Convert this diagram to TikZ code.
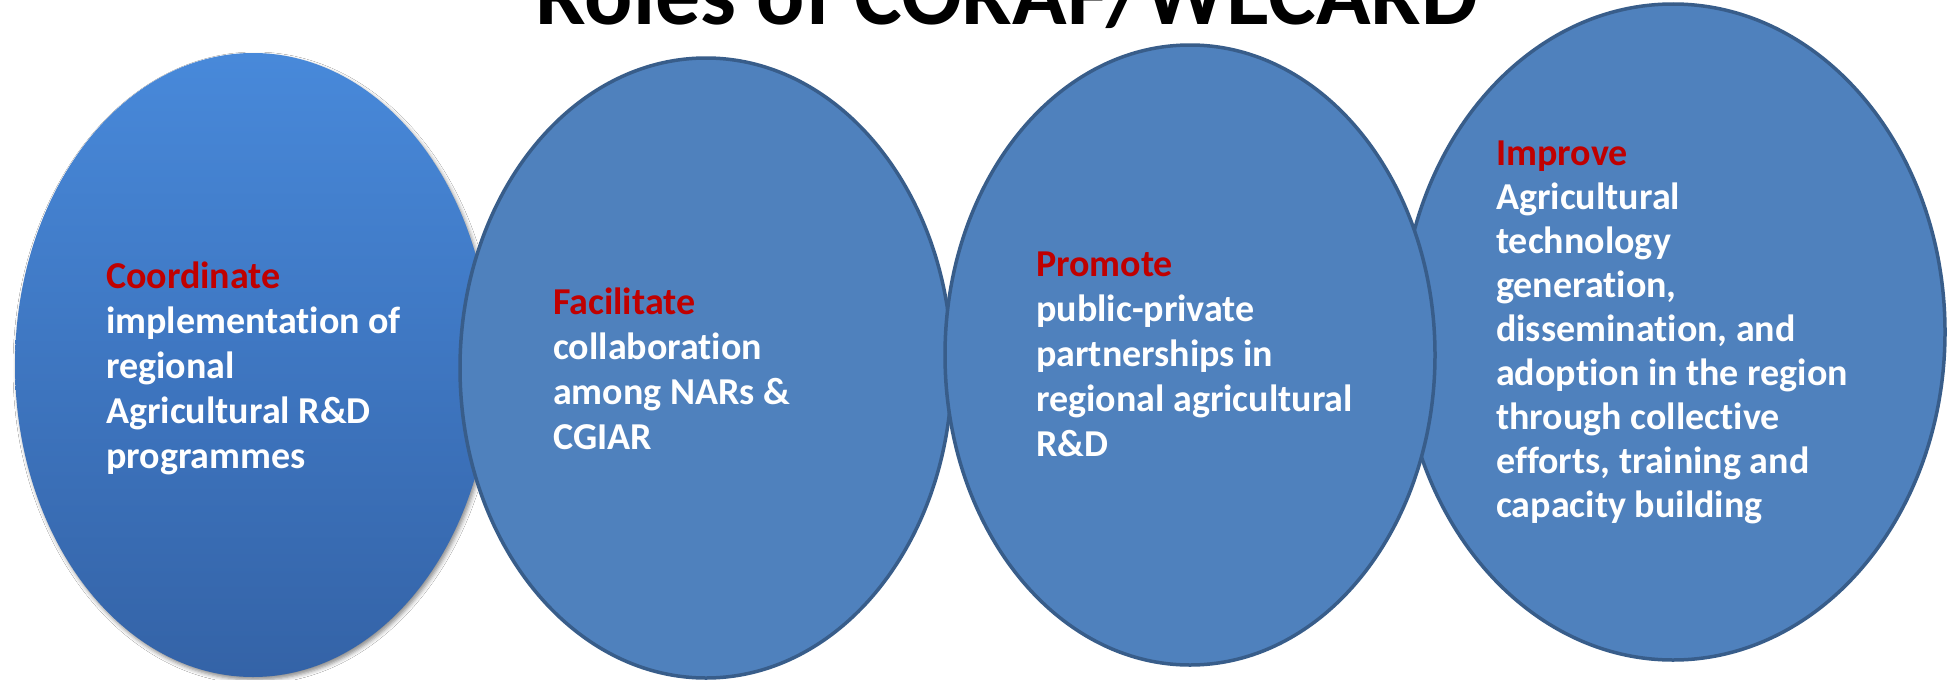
\documentclass[tikz,border=0pt]{standalone}
\usepackage{fontspec}
\setmainfont{Carlito}[Ligatures=NoCommon]
\usetikzlibrary{positioning, shapes.geometric, shadows.blur}

\definecolor{roleblue}{RGB}{79,129,189}
\definecolor{roleedge}{RGB}{56,93,138}
\definecolor{verbred}{RGB}{192,0,0}
\definecolor{firsttop}{RGB}{72,137,218}
\definecolor{firstbottom}{RGB}{52,99,167}

\begin{document}
\begin{tikzpicture}[
    x=1pt, y=-1pt,
    role/.style={ellipse, draw=roleedge, line width=3.5pt, fill=roleblue, inner sep=0pt},
    first role/.style={ellipse, inner sep=0pt, top color=firsttop, bottom color=firstbottom,
        blur shadow={shadow xshift=2pt, shadow yshift=-3pt, shadow blur radius=4pt, shadow opacity=45}},
    % anchored at the baseline of the last line
    role text/.style={anchor=base west, align=left, inner sep=0pt, text=white,
        font=\bfseries\fontsize{38}{45}\selectfont},
    heading/.style={anchor=base, inner sep=0pt, font=\bfseries\fontsize{90}{100}\selectfont},
  ]
  \clip (0,0) rectangle (1949,680);
  \fill[white] (0,0) rectangle (1949,680);

  % slide heading, only its lower part shows
  \node[heading] (heading) at (1007,24) {Roles of CORAF/WECARD};

  % the four roles, drawn left to right (the third one lies over the fourth)
  \node[first role, minimum width=476pt, minimum height=624pt] (coordinate) at (253,365) {};
  \node[role, minimum width=492pt, minimum height=620pt] (facilitate) at (706,368) {};
  \node[role, minimum width=544pt, minimum height=656pt] (improve) at (1673,332) {};
  \node[role, minimum width=490pt, minimum height=620pt] (promote) at (1190,355) {};

  \node[role text] (coordinate text) at (106,468)
    {\textcolor{verbred}{Coordinate}\\implementation of\\regional\\Agricultural R\&D\\programmes};
  \node[role text] (facilitate text) at (553,449)
    {\textcolor{verbred}{Facilitate}\\collaboration\\among NARs \&\\CGIAR};
  \node[role text] (promote text) at (1036,456)
    {\textcolor{verbred}{Promote}\\public-private\\partnerships in\\regional agricultural\\R\&D};
  \node[role text, font=\bfseries\fontsize{38}{44}\selectfont] (improve text) at (1496,517)
    {\textcolor{verbred}{Improve}\\Agricultural\\technology\\generation,\\dissemination, and\\adoption in the region\\through collective\\efforts, training and\\capacity building};
\end{tikzpicture}
\end{document}
